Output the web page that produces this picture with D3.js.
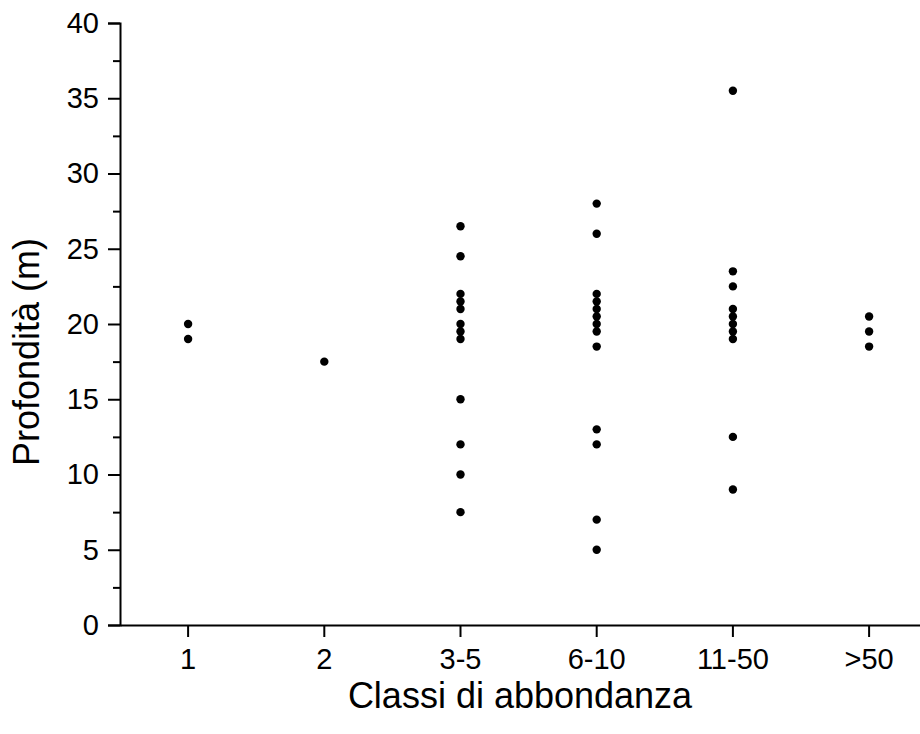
<!DOCTYPE html>
<html>
<head>
<meta charset="utf-8">
<script src="https://cdn.jsdelivr.net/npm/d3@7"></script>
<style>
  body { margin: 0; background: #fff; }
  text { font-family: "Liberation Sans", Arial, sans-serif; fill: #000; }
</style>
</head>
<body>
<div id="chart"></div>
<script>
// abundance classes on the x axis
const classi = ["1", "2", "3-5", "6-10", "11-50", ">50"];

// depth values (m)
const prof_1 = [20, 19];
const prof_2 = [17.5];
const prof_3_5 = [26.5, 24.5, 22, 21.5, 21, 20, 19.5, 19, 15, 12, 10, 7.5];
const prof_6_10 = [28, 26, 22, 21.5, 21, 20.5, 20, 19.5, 18.5, 13, 12, 7, 5];
const prof_11_50 = [35.5, 23.5, 22.5, 21, 20.5, 20, 19.5, 19, 12.5, 9];
const prof_50 = [20.5, 19.5, 18.5];

const yTicks = [0, 5, 10, 15, 20, 25, 30, 35, 40];

const colonne = [prof_1, prof_2, prof_3_5, prof_6_10, prof_11_50, prof_50];
let punti = [];
colonne.forEach((vals, i) => {
  vals.forEach(v => punti.push({cls: classi[i], y: v}));
});

const W = 920, H = 734;
const margin = {left: 120, top: 23, bottom: 109};

const svg = d3.select("#chart").append("svg")
  .attr("width", W)
  .attr("height", H);

// x: band scale so each class sits in the middle of its slot
const x = d3.scaleBand()
  .domain(classi)
  .range([margin.left, margin.left + 6 * 136.2]);

const y = d3.scaleLinear()
  .domain([0, 40])
  .range([H - margin.bottom, margin.top]);

// y axis with minor ticks
svg.append("g")
  .attr("transform", `translate(${margin.left},0)`)
  .call(d3.axisLeft(y).tickValues(yTicks).tickSize(12).tickPadding(9));
svg.append("g")
  .attr("transform", `translate(${margin.left},0)`)
  .call(d3.axisLeft(y).tickValues(d3.range(2.5, 40, 5)).tickSize(7).tickFormat(""))
  .call(g => g.select(".domain").remove());

// x axis
svg.append("g")
  .attr("transform", `translate(0,${y(0)})`)
  .call(d3.axisBottom(x).tickSize(12).tickPadding(11).tickSizeOuter(0));

svg.selectAll(".domain, .tick line")
  .attr("stroke", "#000")
  .attr("stroke-width", 2);
svg.selectAll(".tick text")
  .style("font-size", "29px")
  .style("font-family", "'Liberation Sans', Arial, sans-serif");

// axis titles
svg.append("text")
  .attr("x", 520)
  .attr("y", 708)
  .attr("text-anchor", "middle")
  .style("font-size", "36px")
  .text("Classi di abbondanza");

svg.append("text")
  .attr("transform", `translate(39,352) rotate(-90)`)
  .attr("text-anchor", "middle")
  .style("font-size", "36px")
  .text("Profondità (m)");

// the dots
svg.selectAll("circle.pt")
  .data(punti)
  .enter()
  .append("circle")
    .attr("class", "pt")
    .attr("cx", d => x(d.cls) + x.bandwidth() / 2)
    .attr("cy", d => y(d.y))
    .attr("r", 4.2)
    .attr("fill", "#000");
</script>
</body>
</html>
